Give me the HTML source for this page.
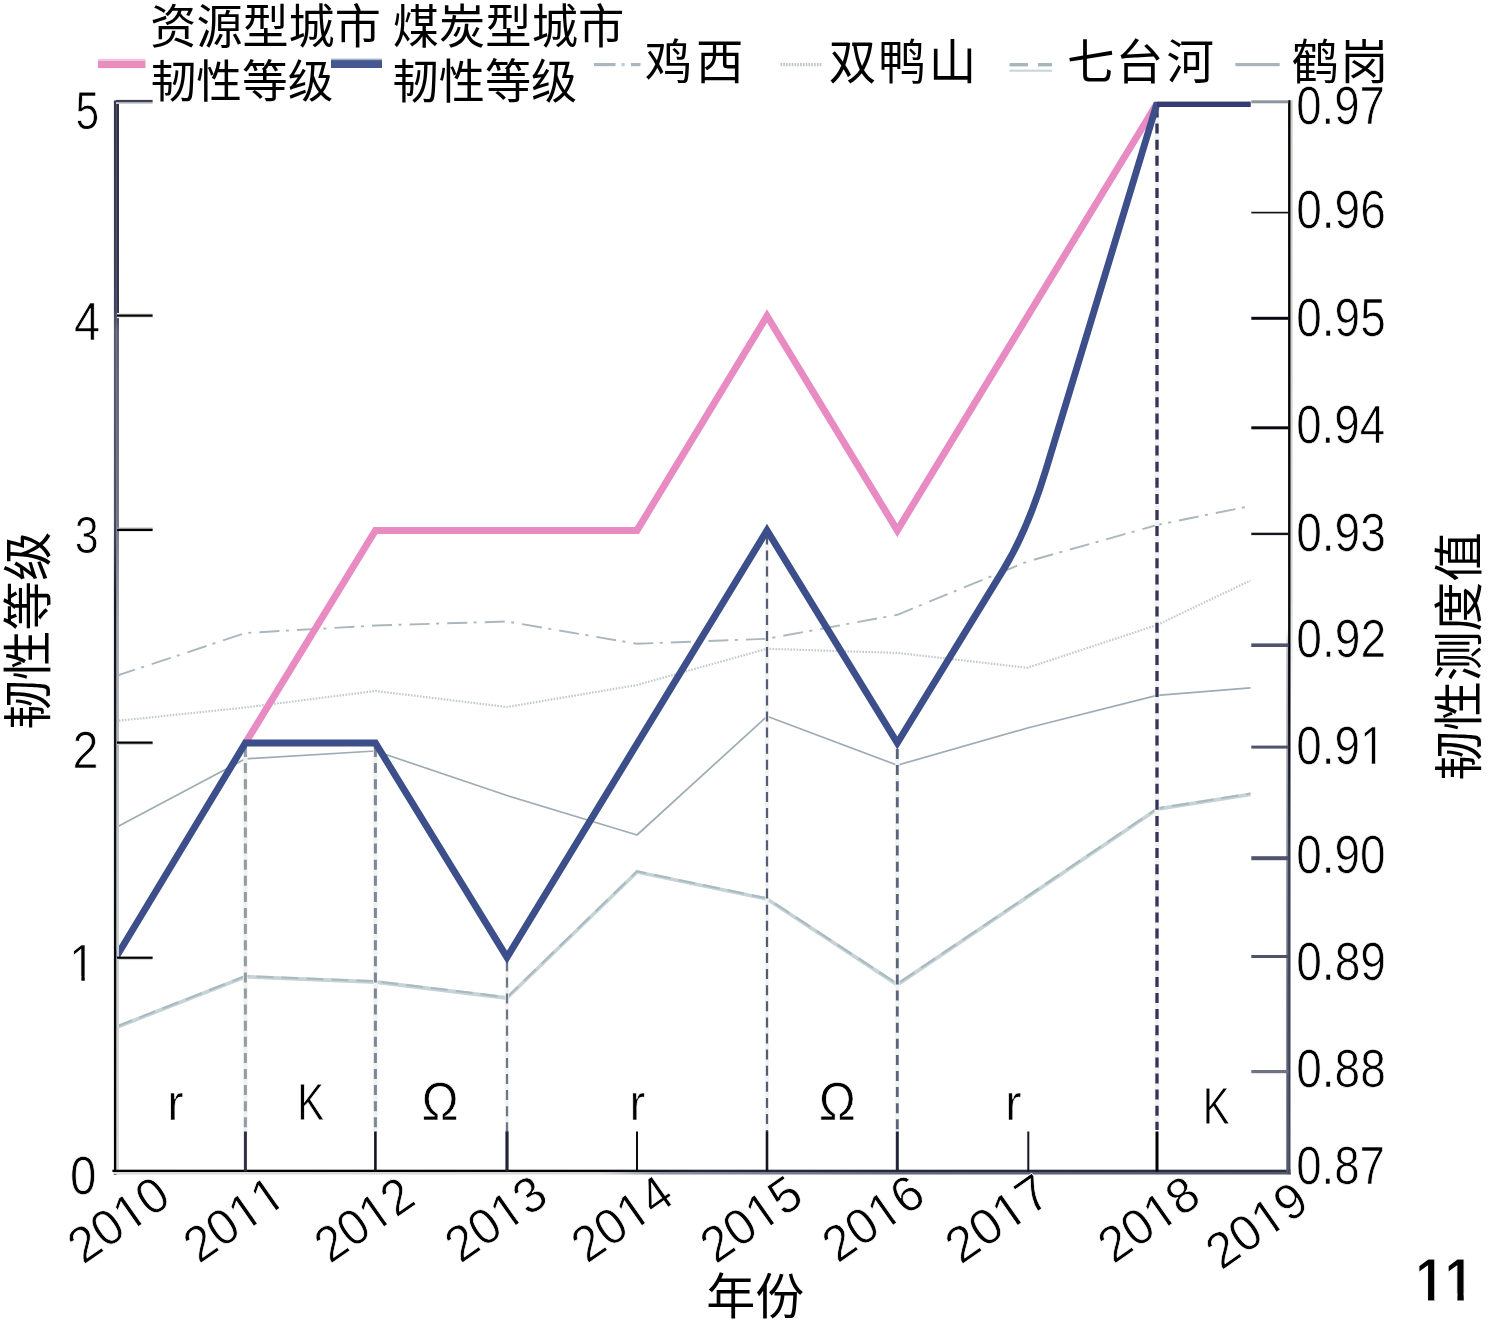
<!DOCTYPE html>
<html lang="zh-CN">
<head>
<meta charset="utf-8">
<title>资源型城市与煤炭型城市韧性等级</title>
<style>
html,body{margin:0;padding:0;background:#fff;}
body{width:1488px;height:1325px;overflow:hidden;font-family:"Liberation Sans",sans-serif;}
svg{display:block;will-change:transform;}
.t{font-family:"Liberation Sans",sans-serif;font-size:50px;fill:#000;font-kerning:none;white-space:pre;stroke:#fff;stroke-width:0.7px;vector-effect:non-scaling-stroke;}
.b{stroke-width:1px;}
.c{font-family:"Liberation Sans","Noto Sans CJK SC",sans-serif;fill:#000;white-space:pre;}
</style>
</head>
<body>
<svg width="1488" height="1325" viewBox="0 0 1488 1325">
<rect width="1488" height="1325" fill="#fff"/>
<g fill="none" stroke-linejoin="round">
<polyline points="116,1027.4 245.4,976.7 375.4,982 507,998 637,872 767,899 897.3,984.6 1027.5,896.9 1157,809.2 1250.5,794.3" stroke="#c6d3d7" stroke-width="3.8"/>
<polyline points="116,1027.4 245.4,976.7 375.4,982 507,998 637,872 767,899 897.3,984.6 1027.5,896.9 1157,809.2 1250.5,794.3" stroke="#a9b9c0" stroke-width="2" stroke-dasharray="17 8" transform="translate(0 -0.7)"/>
<polyline points="116,827.5 245.4,758.8 375.4,751 507,795.5 637,835 767,716.3 897.3,765.2 1027.5,728 1157,695.4 1250.5,687.8" stroke="#9dacb4" stroke-width="1.7"/>
<polyline points="116,721 245.4,707.5 375.4,691 507,707 637,685 767,648.8 897.3,652.9 1027.5,667.8 1157,625 1250.5,580.5" stroke="#c3c9cc" stroke-width="2.2" stroke-dasharray="1.6 1.4"/>
<polyline points="116,676 245.4,633 375.4,625.5 507,621.5 637,643.8 767,638.8 897.3,614.8 1027.5,561.5 1157,525 1250.5,506" stroke="#abb7be" stroke-width="1.9" stroke-dasharray="20 6.5 3 8.1"/>
</g>
<g fill="none">
<line x1="245.4" x2="245.4" y1="747" y2="1132" stroke="#f0f2f0" stroke-width="4.4"/>
<line x1="245.4" x2="245.4" y1="747" y2="1132" stroke="#909da3" stroke-width="3.0" stroke-dasharray="10 6.1"/>
<line x1="375.4" x2="375.4" y1="747" y2="1132" stroke="#f0f2f0" stroke-width="4.4"/>
<line x1="375.4" x2="375.4" y1="747" y2="1132" stroke="#7d8797" stroke-width="3.0" stroke-dasharray="10 6.1"/>
<line x1="507" x2="507" y1="961.3" y2="1132" stroke="#f0f2f0" stroke-width="3.6"/>
<line x1="507" x2="507" y1="961.3" y2="1132" stroke="#6d778a" stroke-width="2.2" stroke-dasharray="10 6.1"/>
<line x1="767" x2="767" y1="534.4" y2="1132" stroke="#f0f2f0" stroke-width="3.6"/>
<line x1="767" x2="767" y1="534.4" y2="1132" stroke="#555d76" stroke-width="2.2" stroke-dasharray="10 6.1"/>
<line x1="897.3" x2="897.3" y1="749" y2="1132" stroke="#f0f2f0" stroke-width="4.199999999999999"/>
<line x1="897.3" x2="897.3" y1="749" y2="1132" stroke="#59637c" stroke-width="2.8" stroke-dasharray="10 6.1"/>
<line x1="1157" x2="1157" y1="107.5" y2="1130" stroke="#f0f2f0" stroke-width="4.699999999999999"/>
<line x1="1157" x2="1157" y1="107.5" y2="1130" stroke="#36335a" stroke-width="3.3" stroke-dasharray="10 6.1"/>
</g>
<clipPath id="plot"><rect x="116" y="101.8" width="1174" height="1071"/></clipPath>
<g fill="none" stroke-linejoin="miter" stroke-miterlimit="6" clip-path="url(#plot)">
<polyline points="245.4,743 375.4,530.4 637,530.4 767,316 897.3,530.4 1157,103.5" stroke="#e98bc3" stroke-width="7"/>
<path d="M116 957.3 L245.4 743 L375.4 743 L507 957.3 L767 530.4 L897.3 743 L1003 570.405 Q1027.5 530.4 1046 469.414 L1157 103.5 L1250.5 103.5" stroke="#3c4f8a" stroke-width="6.9"/>
<polyline points="1157,103.5 1250.5,103.5" stroke="#363b70" stroke-width="7"/>
</g>
<g>
<linearGradient id="la" gradientUnits="userSpaceOnUse" x1="0" y1="100" x2="0" y2="1175"><stop offset="0" stop-color="#34364e"/><stop offset="0.195" stop-color="#3f4260"/><stop offset="0.214" stop-color="#585d74"/><stop offset="0.391" stop-color="#484c64"/><stop offset="0.465" stop-color="#17172a"/><stop offset="1" stop-color="#000"/></linearGradient>
<linearGradient id="lb" gradientUnits="userSpaceOnUse" x1="0" y1="100" x2="0" y2="1175"><stop offset="0" stop-color="#2f3046"/><stop offset="0.195" stop-color="#33354d"/><stop offset="0.214" stop-color="#5a5f75"/><stop offset="0.391" stop-color="#727889"/><stop offset="0.484" stop-color="#a2a9ac"/><stop offset="0.744" stop-color="#c7cdca"/><stop offset="1" stop-color="#d9ddd9"/></linearGradient>
<linearGradient id="ba" gradientUnits="userSpaceOnUse" x1="112" y1="0" x2="1291" y2="0"><stop offset="0" stop-color="#000"/><stop offset="0.414" stop-color="#000"/><stop offset="0.499" stop-color="#23253a"/><stop offset="1" stop-color="#2c2e44"/></linearGradient>
<linearGradient id="bb" gradientUnits="userSpaceOnUse" x1="112" y1="0" x2="1291" y2="0"><stop offset="0" stop-color="#d9dcd9"/><stop offset="0.414" stop-color="#d4d8d5"/><stop offset="0.465" stop-color="#8d93a0"/><stop offset="0.668" stop-color="#62677b"/><stop offset="1" stop-color="#51566b"/></linearGradient>
<linearGradient id="ra" gradientUnits="userSpaceOnUse" x1="0" y1="100" x2="0" y2="1174"><stop offset="0" stop-color="#000"/><stop offset="0.559" stop-color="#05050c"/><stop offset="0.708" stop-color="#35384f"/><stop offset="1" stop-color="#474b61"/></linearGradient>
<linearGradient id="rb" gradientUnits="userSpaceOnUse" x1="0" y1="100" x2="0" y2="1174"><stop offset="0" stop-color="#fff"/><stop offset="0.493" stop-color="#fff"/><stop offset="0.512" stop-color="#b4b9c0"/><stop offset="0.708" stop-color="#7d8395"/><stop offset="0.838" stop-color="#5d6278"/><stop offset="1" stop-color="#52576c"/></linearGradient>
<linearGradient id="rc" gradientUnits="userSpaceOnUse" x1="0" y1="100" x2="0" y2="1174"><stop offset="0" stop-color="#c9cec9"/><stop offset="0.466" stop-color="#d6dad6"/><stop offset="0.559" stop-color="#fff"/><stop offset="1" stop-color="#fff"/></linearGradient>
<rect x="116.2" y="100.5" width="2.8" height="1074" fill="url(#lb)"/>
<rect x="113.9" y="100.5" width="2.4" height="1074.5" fill="url(#la)"/>
<rect x="114" y="1171.6" width="1177" height="2.9" fill="url(#bb)"/>
<rect x="112.4" y="1169.7" width="1178.6" height="2.3" fill="url(#ba)"/>
<rect x="1290.4" y="100.2" width="2.3" height="1073" fill="url(#rc)"/>
<rect x="1286.3" y="100.2" width="2" height="1074" fill="url(#rb)"/>
<rect x="1288.1" y="100.2" width="2.4" height="1074" fill="url(#ra)"/>
</g>
<g>
<rect x="117" y="313" width="35.6" height="5.2" fill="#e3e8e3"/>
<rect x="117" y="314.5" width="35.6" height="2.2" fill="#000"/>
<rect x="117" y="527.6" width="35.6" height="2.4" fill="#a3a9a9"/>
<rect x="117" y="528.9" width="35.6" height="2.2" fill="#000"/>
<rect x="117" y="742.4" width="35.6" height="2.6" fill="#cfd4cf"/>
<rect x="117" y="741.5" width="35.6" height="2.2" fill="#000"/>
<rect x="117" y="957.5" width="35.6" height="2.6" fill="#cfd4cf"/>
<rect x="117" y="956.6" width="35.6" height="2.2" fill="#000"/>
<rect x="116" y="101.6" width="36.6" height="2.4" fill="#c9cfcd"/>
<rect x="116" y="99.9" width="36.6" height="2.3" fill="#3d4058"/>
<rect x="1251.3" y="100.3" width="37" height="3.0" fill="#8d97a3"/>
<rect x="1251.3" y="211.75" width="37" height="1.7" fill="#14141e"/>
<rect x="1251.3" y="316.8" width="37" height="3.0" fill="#0a0a12"/>
<rect x="1251.3" y="426.3" width="37" height="3.0" fill="#0a0a12"/>
<rect x="1251.3" y="532.7" width="37" height="2.4" fill="#15151f"/>
<rect x="1251.3" y="643.4" width="37" height="3.6" fill="#4f546c"/>
<rect x="1251.3" y="745.6" width="37" height="3.0" fill="#4f546c"/>
<rect x="1251.3" y="856.2" width="37" height="4.0" fill="#4f546c"/>
<rect x="1251.3" y="955" width="37" height="3.0" fill="#4f546c"/>
<rect x="1251.3" y="1070" width="37" height="3.2" fill="#6d7384"/>
<rect x="243.9" y="1131.5" width="3" height="40" fill="#2e2f48"/>
<rect x="374.1" y="1131.5" width="2.6" height="40" fill="#15151f"/>
<rect x="505.4" y="1131.5" width="3.2" height="40" fill="#23243a"/>
<rect x="636" y="1131.5" width="2" height="40" fill="#0a0a12"/>
<rect x="765.7" y="1131.5" width="2.6" height="40" fill="#15151f"/>
<rect x="895.8" y="1131.5" width="3" height="40" fill="#23243a"/>
<rect x="1027.3" y="1131.5" width="2" height="40" fill="#15151f"/>
<rect x="1155.5" y="1131.5" width="3" height="40" fill="#000"/>
</g>
<g class="lat">
<text class="t" transform="matrix(0.852 0 0 1.061 75.494 129.482)">5</text>
<text class="t" transform="matrix(0.941 0 0 1.061 74.121 340.3)">4</text>
<text class="t" transform="matrix(0.861 0 0 1.045 74.861 553.39)">3</text>
<text class="t" transform="matrix(0.935 0 0 1.031 72.549 767.9)">2</text>
<clipPath id="k1"><path clip-rule="evenodd" d="M-50 -100H77.808V60H-50ZM2.71 -4.834H12.951V1.221H2.71ZM16.615 -4.834H26.465V1.221H16.615Z"/></clipPath><text class="t" clip-path="url(#k1)" transform="matrix(0.928 0 0 1.044 69.339 980.8)">1</text>
<text class="t" transform="matrix(0.95 0 0 1.065 70.045 1194.18)">0</text>
<text class="t" transform="matrix(0.912 0 0 1.056 1296.218 123.834)">0.97</text>
<text class="t" transform="matrix(0.921 0 0 1.056 1296.201 228.384)">0.96</text>
<text class="t" transform="matrix(0.92 0 0 1.056 1296.203 336.484)">0.95</text>
<text class="t" transform="matrix(0.914 0 0 1.056 1296.215 442.884)">0.94</text>
<text class="t" transform="matrix(0.921 0 0 1.056 1296.201 551.084)">0.93</text>
<text class="t" transform="matrix(0.924 0 0 1.056 1296.195 657.384)">0.92</text>
<clipPath id="k2"><path clip-rule="evenodd" d="M-50 -100H147.314V60H-50ZM72.217 -4.834H82.462V1.221H72.217ZM86.117 -4.834H95.972V1.221H86.117Z"/></clipPath><text class="t" clip-path="url(#k2)" transform="matrix(0.917 0 0 1.056 1296.21 764.284)">0.91</text>
<text class="t" transform="matrix(0.919 0 0 1.056 1296.206 872.984)">0.90</text>
<text class="t" transform="matrix(0.923 0 0 1.056 1296.198 979.884)">0.89</text>
<text class="t" transform="matrix(0.921 0 0 1.056 1296.202 1087.184)">0.88</text>
<text class="t" transform="matrix(0.912 0 0 1.056 1296.218 1183.984)">0.87</text>
<text class="t" transform="matrix(0.984 0 0 1.015 167.133 1119.9)">r</text>
<text class="t" transform="matrix(0.812 0 0 1.044 297.169 1119.9)">K</text>
<text class="t" transform="matrix(0.997 0 0 1.06 421.383 1119.9)">Ω</text>
<text class="t" transform="matrix(0.944 0 0 1.015 629.466 1119.9)">r</text>
<text class="t" transform="matrix(0.994 0 0 1.06 818.689 1119.9)">Ω</text>
<text class="t" transform="matrix(1 0 0 1.015 1005.08 1119.9)">r</text>
<text class="t" transform="matrix(0.812 0 0 1.026 1202.869 1124.2)">K</text>
<clipPath id="k3"><path clip-rule="evenodd" d="M-50 -100H105.615V60H-50ZM2.051 -6.201H12.143V1.221H2.051ZM18.058 -6.201H27.515V1.221H18.058ZM29.858 -6.201H39.95V1.221H29.858ZM45.865 -6.201H55.322V1.221H45.865Z"/></clipPath><text class="t b" font-weight="bold" clip-path="url(#k3)" transform="matrix(1.058 0 0 1.221 1415.185 1300.9)">11</text>
<clipPath id="k4"><path clip-rule="evenodd" d="M-50 -100H161.23V60H-50ZM58.325 -4.834H68.543V1.221H58.325ZM72.253 -4.834H82.08V1.221H72.253Z"/></clipPath><text class="t" clip-path="url(#k4)" transform="translate(118.6 1219.45) rotate(-35) translate(-55.235 17.309) scale(0.988 1.006)">2010</text>
<clipPath id="k5"><path clip-rule="evenodd" d="M-50 -100H161.23V60H-50ZM58.325 -4.834H68.545V1.221H58.325ZM72.25 -4.834H82.08V1.221H72.25ZM86.133 -4.834H96.353V1.221H86.133ZM100.058 -4.834H109.888V1.221H100.058Z"/></clipPath><text class="t" clip-path="url(#k5)" transform="translate(230.45 1221.45) rotate(-35) translate(-50.466 17.309) scale(0.981 1.006)">2011</text>
<clipPath id="k6"><path clip-rule="evenodd" d="M-50 -100H161.23V60H-50ZM58.325 -4.834H68.551V1.221H58.325ZM72.245 -4.834H82.08V1.221H72.245Z"/></clipPath><text class="t" clip-path="url(#k6)" transform="translate(364.15 1219.5) rotate(-35) translate(-53.677 17.309) scale(0.965 1.006)">2012</text>
<clipPath id="k7"><path clip-rule="evenodd" d="M-50 -100H161.23V60H-50ZM58.325 -4.834H68.542V1.221H58.325ZM72.254 -4.834H82.08V1.221H72.254Z"/></clipPath><text class="t" clip-path="url(#k7)" transform="translate(495.85 1218.4) rotate(-35) translate(-55.241 17.309) scale(0.99 1.006)">2013</text>
<clipPath id="k8"><path clip-rule="evenodd" d="M-50 -100H161.23V60H-50ZM58.325 -4.834H68.544V1.221H58.325ZM72.252 -4.834H82.08V1.221H72.252Z"/></clipPath><text class="t" clip-path="url(#k8)" transform="translate(622.25 1218.35) rotate(-35) translate(-55.224 17.309) scale(0.984 1.006)">2014</text>
<clipPath id="k9"><path clip-rule="evenodd" d="M-50 -100H161.23V60H-50ZM58.325 -4.834H68.542V1.221H58.325ZM72.254 -4.834H82.08V1.221H72.254Z"/></clipPath><text class="t" clip-path="url(#k9)" transform="translate(751.1 1218.8) rotate(-35) translate(-55.238 17.309) scale(0.99 1.006)">2015</text>
<clipPath id="k10"><path clip-rule="evenodd" d="M-50 -100H161.23V60H-50ZM58.325 -4.834H68.542V1.221H58.325ZM72.254 -4.834H82.08V1.221H72.254Z"/></clipPath><text class="t" clip-path="url(#k10)" transform="translate(873.1 1218.1) rotate(-35) translate(-55.241 17.309) scale(0.99 1.006)">2016</text>
<clipPath id="k11"><path clip-rule="evenodd" d="M-50 -100H161.23V60H-50ZM58.325 -4.834H68.531V1.221H58.325ZM72.265 -4.834H82.08V1.221H72.265Z"/></clipPath><text class="t" clip-path="url(#k11)" transform="translate(997.25 1218.6) rotate(-35) translate(-56.819 17.309) scale(1.022 1.006)">2017</text>
<clipPath id="k12"><path clip-rule="evenodd" d="M-50 -100H161.23V60H-50ZM58.325 -4.834H68.542V1.221H58.325ZM72.254 -4.834H82.08V1.221H72.254Z"/></clipPath><text class="t" clip-path="url(#k12)" transform="translate(1148.8 1219) rotate(-35) translate(-55.24 17.309) scale(0.99 1.006)">2018</text>
<clipPath id="k13"><path clip-rule="evenodd" d="M-50 -100H161.23V60H-50ZM58.325 -4.834H68.541V1.221H58.325ZM72.255 -4.834H82.08V1.221H72.255Z"/></clipPath><text class="t" clip-path="url(#k13)" transform="translate(1256.55 1225.05) rotate(-35) translate(-55.245 17.309) scale(0.992 1.006)">2019</text>
</g>
<g>
<rect x="98" y="60.5" width="47.5" height="7.6" fill="#e98dbf"/>
<rect x="98" y="58.8" width="47.5" height="2" fill="#f3c3dd"/>
<rect x="331" y="60" width="51" height="8" fill="#44578f"/>
<rect x="331" y="58.6" width="51" height="1.6" fill="#a6b0cc"/>
<g fill="#a9b7bf"><rect x="594" y="63" width="21.5" height="3.2"/><rect x="621.5" y="63" width="3.2" height="3.2" fill="#c3ccd1"/><rect x="631" y="63" width="9.5" height="3.2"/></g>
<line x1="780.5" x2="822.5" y1="64.6" y2="64.6" stroke="#bcc2c6" stroke-width="3.2" stroke-dasharray="1.6 1.2"/>
<g><rect x="1009.5" y="63" width="18.5" height="3.4" fill="#a7b6be"/><rect x="1038" y="63" width="14" height="3.4" fill="#a7b6be"/><rect x="1009.5" y="69.6" width="42.5" height="2.2" fill="#ccd6da"/></g>
<rect x="1235.4" y="63" width="44.3" height="3.2" fill="#a9b5bc"/>
</g>
<g fill="#000">
<text class="c" x="150.343" y="43.442" font-size="46.1">资源型城市</text>
<text class="c" x="150.68" y="97.704" font-size="45.7">韧性等级</text>
<text class="c" x="392.786" y="43.442" font-size="46.3">煤炭型城市</text>
<text class="c" x="392.559" y="97.704" font-size="46.2">韧性等级</text>
<text class="c" x="644.724 695.998" y="78.86" font-size="47.5">鸡西</text>
<text class="c" x="828.721 878.236 928.776" y="78.86" font-size="47.5">双鸭山</text>
<text class="c" x="1066.979 1115.783 1166.595" y="78.86" font-size="47.5">七台河</text>
<text class="c" x="1291.389 1340.61" y="78.86" font-size="47.5">鹤岗</text>
<text class="c" x="706.145" y="1313.865" font-size="49">年份</text>
<text class="c" transform="translate(27.25 630.4) rotate(-90) translate(-99.179 18.882)" font-size="49.5">韧性等级</text>
<text class="c" transform="translate(1458.5 656.15) rotate(-90) translate(-124.339 18.759)" font-size="49.7">韧性测度值</text>
</g>
</svg>
</body>
</html>
